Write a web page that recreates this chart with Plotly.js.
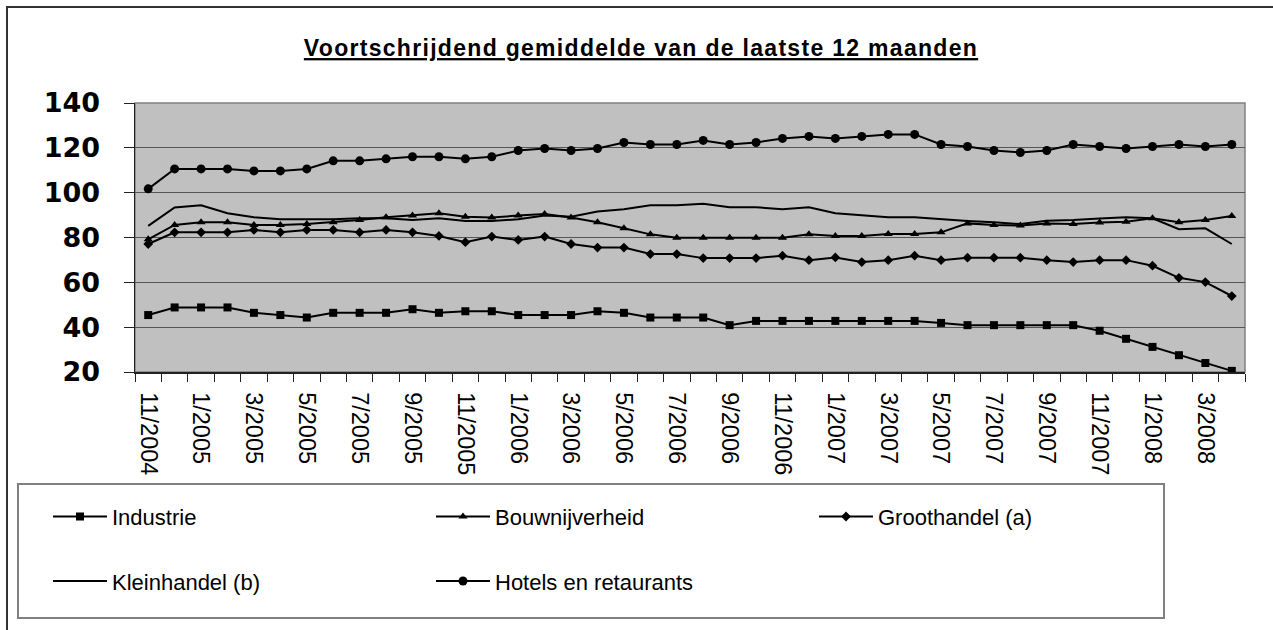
<!DOCTYPE html>
<html>
<head>
<meta charset="utf-8">
<script src="https://cdn.plot.ly/plotly-3.0.1.min.js"></script>
<style>
  html, body { margin: 0; padding: 0; background: #ffffff; }
  #chart { width: 1273px; height: 630px; }
  .gtitle { letter-spacing: 1.3px; }
  .gtitle, .gtitle tspan { text-decoration-thickness: 3px; }
</style>
</head>
<body>
<div id="chart"></div>
<script>
// Months (categories)
const months = [
  "11/2004","12/2004",
  "1/2005","2/2005","3/2005","4/2005","5/2005","6/2005","7/2005","8/2005","9/2005","10/2005","11/2005","12/2005",
  "1/2006","2/2006","3/2006","4/2006","5/2006","6/2006","7/2006","8/2006","9/2006","10/2006","11/2006","12/2006",
  "1/2007","2/2007","3/2007","4/2007","5/2007","6/2007","7/2007","8/2007","9/2007","10/2007","11/2007","12/2007",
  "1/2008","2/2008","3/2008","4/2008"
];

// Tick labels shown (every other month)
const tickLabels = [
  "11/2004","",
  "1/2005","","3/2005","","5/2005","","7/2005","","9/2005","","11/2005","",
  "1/2006","","3/2006","","5/2006","","7/2006","","9/2006","","11/2006","",
  "1/2007","","3/2007","","5/2007","","7/2007","","9/2007","","11/2007","",
  "1/2008","","3/2008",""
];

// Series values
const industrie = [45.4, 48.8, 48.8, 48.8, 46.4, 45.4, 44.3, 46.4, 46.4, 46.4, 48.0, 46.4,
  47.1, 47.1, 45.4, 45.4, 45.4, 47.1, 46.4, 44.3, 44.3, 44.3, 40.9, 42.8, 42.8,
  42.8, 42.8, 42.8, 42.8, 42.8, 41.9, 40.9, 40.9, 40.9, 40.9, 40.9, 38.4, 34.8, 31.2, 27.5, 24.0, 20.5];

const bouwnijverheid = [79.2, 85.6, 86.8, 86.8, 85.6, 85.6, 86.0, 86.8, 87.8, 89.0, 89.8, 90.8,
  89.3, 88.9, 89.8, 90.5, 88.9, 86.8, 84.1, 81.4, 79.9, 79.9, 79.9, 79.9, 79.9,
  81.4, 80.7, 80.7, 81.6, 81.6, 82.3, 86.3, 85.6, 85.3, 86.3, 86.0, 86.7, 87.0, 88.6, 86.8, 87.8, 89.6];

const groothandel = [77.1, 82.3, 82.3, 82.3, 83.4, 82.3, 83.4, 83.4, 82.3, 83.4, 82.3, 80.7,
  77.9, 80.4, 78.9, 80.4, 77.1, 75.5, 75.5, 72.6, 72.6, 70.8, 70.8, 70.8, 71.9,
  69.9, 71.1, 69.05, 69.9, 71.9, 69.9, 71.0, 71.0, 71.0, 69.9, 69.05, 69.9, 69.9, 67.4, 62.0, 60.1, 53.9];

const kleinhandel = [85.2, 93.4, 94.4, 90.8, 89.0, 88.1, 88.1, 88.1, 88.6, 88.6, 87.8, 88.6,
  87.4, 87.4, 88.1, 89.8, 89.3, 91.6, 92.6, 94.4, 94.4, 95.1, 93.5, 93.5, 92.6,
  93.5, 90.8, 89.8, 89.0, 89.0, 88.1, 87.4, 86.8, 86.0, 87.5, 87.8, 88.5, 89.0, 88.6, 83.7, 84.1, 77.1];

const hotels = [101.7, 110.6, 110.6, 110.6, 109.7, 109.7, 110.6, 114.2, 114.2, 115.1, 116.0, 116.0,
  115.1, 116.0, 118.8, 119.7, 118.8, 119.7, 122.4, 121.5, 121.5, 123.3, 121.5, 122.4, 124.2,
  125.1, 124.2, 125.1, 126.0, 126.0, 121.5, 120.6, 118.8, 117.9, 118.8, 121.5, 120.6, 119.7, 120.6, 121.5, 120.6, 121.5];

const yTicks = [20, 40, 60, 80, 100, 120, 140];

const FONT = '"Liberation Sans", Arial, sans-serif';
const lineStyle = {color: '#000000', width: 2};

const traces = [
  {name: 'Industrie', x: months, y: industrie, type: 'scatter', mode: 'lines+markers',
   line: lineStyle, marker: {symbol: 'square', size: 8, color: '#000000'}, legend: 'legend'},
  {name: 'Bouwnijverheid', x: months, y: bouwnijverheid, type: 'scatter', mode: 'lines+markers',
   line: lineStyle, marker: {symbol: 'triangle-up', size: 8, color: '#000000'}, legend: 'legend'},
  {name: 'Groothandel (a)', x: months, y: groothandel, type: 'scatter', mode: 'lines+markers',
   line: lineStyle, marker: {symbol: 'diamond', size: 7.5, color: '#000000'}, legend: 'legend'},
  {name: 'Kleinhandel (b)', x: months, y: kleinhandel, type: 'scatter', mode: 'lines',
   line: lineStyle, legend: 'legend2'},
  {name: 'Hotels en retaurants', x: months, y: hotels, type: 'scatter', mode: 'lines+markers',
   line: lineStyle, marker: {symbol: 'circle', size: 9, color: '#000000'}, legend: 'legend2'}
];

const legendCommon = {
  orientation: 'h',
  xanchor: 'left', yanchor: 'top',
  font: {family: FONT, size: 22, color: '#000000'},
  bgcolor: 'rgba(0,0,0,0)',
  borderwidth: 0,
  itemwidth: 54,
  entrywidth: 314,
  entrywidthmode: 'pixels',
  itemclick: false, itemdoubleclick: false
};

const layout = {
  width: 1273, height: 630,
  paper_bgcolor: '#ffffff',
  plot_bgcolor: '#C0C0C0',
  margin: {l: 135, r: 28, t: 103, b: 258, pad: 0},
  showlegend: true,
  title: {
    text: '<b><u>Voortschrijdend gemiddelde van de laatste 12 maanden</u></b>',
    font: {family: FONT, size: 23, color: '#000000'},
    xref: 'container', yref: 'container',
    x: 641 / 1273, xanchor: 'center',
    y: 1 - 48 / 630, yanchor: 'middle'
  },
  xaxis: {
    type: 'category',
    range: [-0.5, months.length - 0.5],
    tickmode: 'array',
    tickvals: months,
    ticktext: tickLabels,
    tickson: 'boundaries',
    ticks: 'outside', ticklen: 8, tickwidth: 1, tickcolor: '#222222',
    tickangle: 90,
    ticklabelstandoff: 14,
    tickfont: {family: FONT, size: 23.5, color: '#000000'},
    showgrid: false,
    showline: true, linecolor: '#222222', linewidth: 1.5,
    zeroline: false, fixedrange: true
  },
  yaxis: {
    range: [20, 140],
    tickmode: 'array',
    tickvals: yTicks,
    ticktext: yTicks.map(String),
    ticks: 'outside', ticklen: 10, tickwidth: 1, tickcolor: '#222222',
    ticklabelstandoff: 18,
    tickfont: {family: '"DejaVu Sans", sans-serif', size: 27, color: '#000000', weight: 'bold'},
    showgrid: true, gridcolor: '#555555', gridwidth: 1.2,
    showline: true, linecolor: '#222222', linewidth: 1.5,
    zeroline: false, fixedrange: true
  },
  legend: Object.assign({}, legendCommon, {x: (48 - 135) / 1110, y: (372 - 495.7) / 269}),
  legend2: Object.assign({}, legendCommon, {x: (48 - 135) / 1110, y: (372 - 560.2) / 269}),
  shapes: [
    // plot area border
    {type: 'rect', xref: 'paper', yref: 'paper', x0: 0, x1: 1, y0: 0, y1: 1,
     line: {color: '#808080', width: 1.5}, fillcolor: 'rgba(0,0,0,0)', layer: 'below'},
    // legend box
    {type: 'rect', xref: 'paper', yref: 'paper',
     x0: (18 - 135) / 1110, x1: (1164 - 135) / 1110,
     y0: (372 - 618) / 269, y1: (372 - 484) / 269,
     line: {color: '#808080', width: 2}, fillcolor: 'rgba(0,0,0,0)'},
    // outer chart border (extends beyond the picture on right and bottom)
    {type: 'rect', xref: 'paper', yref: 'paper',
     x0: (7 - 135) / 1110, x1: (1300 - 135) / 1110,
     y0: (372 - 660) / 269, y1: (372 - 7) / 269,
     line: {color: '#333333', width: 2}, fillcolor: 'rgba(0,0,0,0)'}
  ]
};

Plotly.newPlot('chart', traces, layout, {displayModeBar: false, staticPlot: true});
</script>
</body>
</html>
